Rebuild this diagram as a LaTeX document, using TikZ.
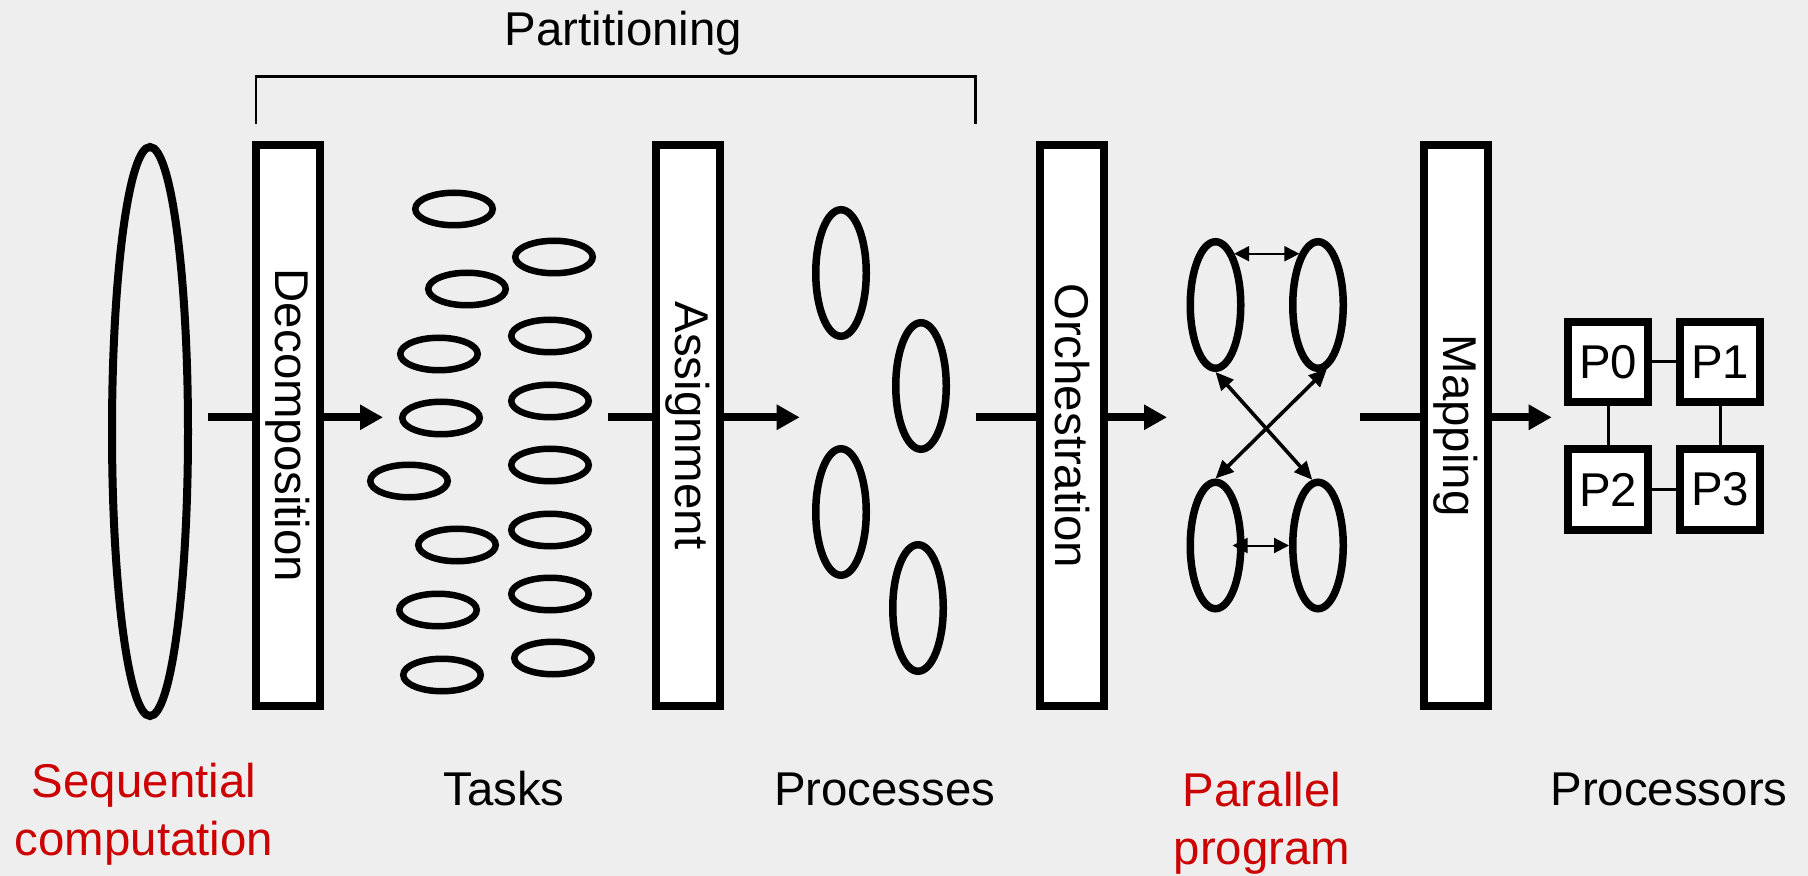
\documentclass[tikz,border=0pt]{standalone}
\usepackage{fontspec}
\setmainfont{Liberation Sans}
\usepackage{tikz}
\usetikzlibrary{shapes.geometric, arrows.meta, positioning}
\definecolor{slidegray}{RGB}{238,238,238}
\definecolor{stagered}{RGB}{204,0,0}

\begin{document}
\begin{tikzpicture}[
    x=0.5pt, y=-0.5pt,
    every node/.style={font=\fontsize{23.7pt}{29pt}\selectfont, inner sep=0pt},
    stage/.style={rectangle, draw, line width=4pt, fill=white, minimum width=32pt, minimum height=280.5pt},
    task/.style={ellipse, draw, line width=3.25pt, minimum width=38.75pt, minimum height=16.25pt},
    proc/.style={ellipse, draw, line width=3.75pt, minimum width=25.25pt, minimum height=63.25pt},
    cpu/.style={rectangle, draw, line width=4pt, fill=white, minimum size=40pt},
    flow/.style={-{Triangle[length=11.5pt, width=12pt]}, line width=4pt},
    msg/.style={{Triangle[length=7.5pt, width=7.5pt]}-{Triangle[length=7.5pt, width=7.5pt]}, line width=1pt},
    swap/.style={{Triangle[length=9pt, width=8pt]}-{Triangle[length=9pt, width=8pt]}, line width=1.8pt},
    wire/.style={line width=1.5pt},
    caption/.style={anchor=base, align=center}
]

\fill[slidegray] (0,0) rectangle (1808,876);
\useasboundingbox (0,0) rectangle (1808,876);

\node[caption] (part) at (623.5,46) {Partitioning};
\coordinate (brL) at (256,124);
\coordinate (brR) at (975.7,124);
\draw[line width=1.35pt] (brL) -- ++(0,-47.3) -| (brR);

\node[ellipse, draw, line width=4pt, minimum width=38pt, minimum height=284.5pt] (seq) at (150,431.5) {};

\foreach \i/\x/\y in {1/454/209, 2/467/289, 3/439/354, 4/441/418, 5/409/481, 6/457/545, 7/438/610, 8/442/675,
                      9/554/257, 10/550/336, 11/550/401, 12/550/465, 13/550/530, 14/550/594, 15/553/658}
    \node[task] (t\i) at (\x,\y) {};

\foreach \i/\x/\y in {1/841/273, 2/921/386, 3/841/512, 4/918/608}
    \node[proc] (pr\i) at (\x,\y) {};

\foreach \i/\x/\y in {1/1215.5/305, 2/1318/305, 3/1215.5/545.5, 4/1318/545.5}
    \node[proc] (pp\i) at (\x,\y) {};

\draw[msg] (pp1.70) -- (pp2.110);
\draw[msg] ([xshift=-6pt]pp3.east) -- (pp4.west);
\draw[swap] (pp1.south) -- (pp4.95);
\draw[swap] (pp2.-82) -- (pp3.north);

\foreach \name/\x/\txt/\s/\e in {dec/288/Decomposition/208/383, asg/687.9/Assignment/608/799.7,
                                 orc/1072/Orchestration/975.7/1167, map/1455.9/Mapping/1360/1551.7} {
    \coordinate (\name-in) at (\s,417.3);
    \coordinate (\name-out) at (\e,417.3);
    \draw[flow] (\name-in) -- (\name-out);
    \node[stage] (\name) at (\x,425.5) {\rotatebox{-90}{\txt}};
}

\node[cpu] (p0) at (1608,362) {P0};
\node[cpu, right=12pt of p0] (p1) {P1};
\node[cpu, below=19.75pt of p0] (p2) {P2};
\node[cpu, right=12pt of p2] (p3) {P3};
\draw[wire] (p0) -- (p1);
\draw[wire] (p0) -- (p2);
\draw[wire] (p1) -- (p3);
\draw[wire] (p2) -- (p3);

\node[caption, text=stagered] (seqlbl) at (144,855.3) {Sequential\\computation};
\node[caption] (tasklbl) at (504,805.7) {Tasks};
\node[caption] (proclbl) at (884.7,805.7) {Processes};
\node[caption, text=stagered] (parlbl) at (1262,864.7) {Parallel\\program};
\node[caption] (cpulbl) at (1669,805.7) {Processors};

\end{tikzpicture}
\end{document}
